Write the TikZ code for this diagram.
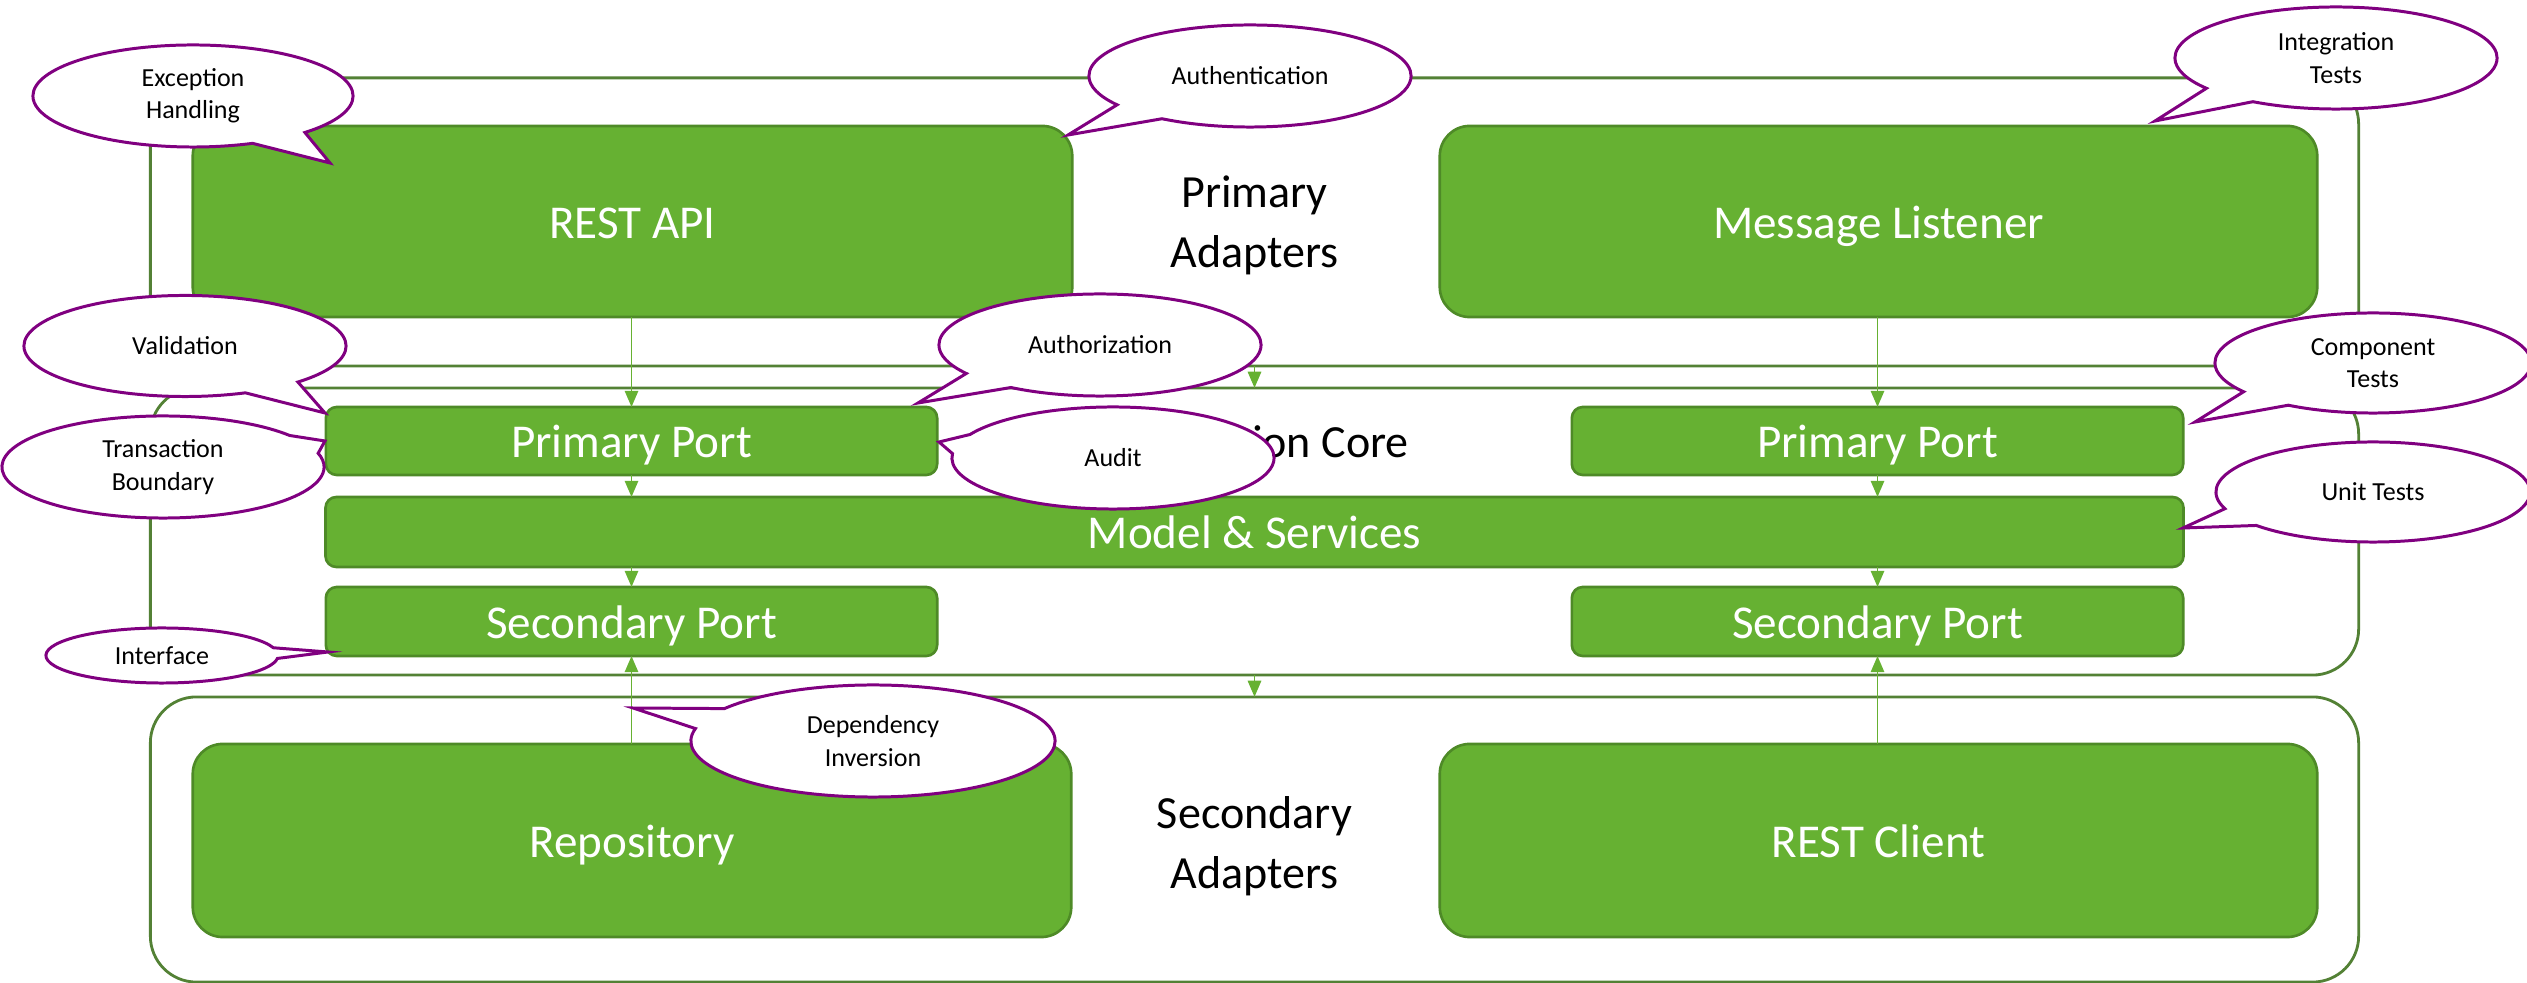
\documentclass[tikz,border=0pt]{standalone}
\usepackage{fontspec}
\setmainfont{Carlito}
\usetikzlibrary{shapes.callouts,arrows.meta}
\definecolor{boxfill}{HTML}{66B132}
\definecolor{boxline}{HTML}{4E8A27}
\definecolor{contline}{HTML}{538135}
\definecolor{arrowgreen}{HTML}{66B132}
\definecolor{bubbleline}{HTML}{800080}
\begin{document}
\begin{tikzpicture}[x=0.01cm,y=-0.01cm,
  container/.style={draw=contline, line width=0.8pt, rounded corners=0.46cm, inner sep=0pt, outer sep=0pt},
  box/.style={draw=boxline, fill=boxfill, line width=0.75pt, text=white, font=\fontsize{13.4}{16}\selectfont, text height=11pt, text depth=1.6pt, inner sep=0pt, outer sep=0pt},
  bigbox/.style={box, rounded corners=0.3cm},
  portbox/.style={box, rounded corners=0.11cm},
  lbl/.style={font=\fontsize{13.1}{17}\selectfont, align=center, text=black},
  flow/.style={draw=arrowgreen, line width=0.55pt, -{Triangle[length=4.6pt,width=3.8pt]}},
  bubble/.style={ellipse callout, draw=bubbleline, fill=white, line width=0.85pt, inner sep=0pt, callout pointer arc=22.5, align=center, font=\fontsize{7.4}{9.2}\selectfont}
]
\useasboundingbox (0,0) rectangle (2527,983);

% containers
\node[container, minimum width=22.07cm, minimum height=2.88cm] (primary) at (1254.5,222) {};
\node[container, minimum width=22.07cm, minimum height=2.87cm] (core) at (1254.5,531.5) {};
\node[container, minimum width=22.07cm, minimum height=2.85cm] (secondary) at (1254.5,839.5) {};

% labels
\node[lbl] (primlbl) at (1254.5,225) {Primary\\Adapters};
\node[lbl] (corelbl) at (1254.5,445) {Application Core};
\node[lbl] (seclbl) at (1254.5,846) {Secondary\\Adapters};

% adapter boxes
\node[bigbox, minimum width=8.79cm, minimum height=1.91cm] (restapi) at (632.5,221.5) {REST API};
\node[bigbox, minimum width=8.77cm, minimum height=1.91cm] (msglistener) at (1878.5,221.5) {Message Listener};
\node[bigbox, minimum width=8.78cm, minimum height=1.93cm] (repo) at (632,840.5) {Repository};
\node[bigbox, minimum width=8.77cm, minimum height=1.93cm] (restclient) at (1878.5,840.5) {REST Client};

% core boxes
\node[portbox, minimum width=6.11cm, minimum height=0.68cm] (pport1) at (631.5,441) {Primary Port};
\node[portbox, minimum width=6.11cm, minimum height=0.68cm] (pport2) at (1877.5,441) {Primary Port};
\node[portbox, minimum width=18.57cm, minimum height=0.70cm] (model) at (1254.5,532) {Model \& Services};
\node[portbox, minimum width=6.11cm, minimum height=0.69cm] (sport1) at (631.5,621.5) {Secondary Port};
\node[portbox, minimum width=6.11cm, minimum height=0.69cm] (sport2) at (1877.5,621.5) {Secondary Port};

% flows
\draw[flow] (restapi.south -| pport1.north) -- (pport1.north);
\draw[flow] (msglistener.south -| pport2.north) -- (pport2.north);
\draw[flow] (pport1.south) -- (pport1.south |- model.north);
\draw[flow] (pport2.south) -- (pport2.south |- model.north);
\draw[flow] (sport1.north |- model.south) -- (sport1.north);
\draw[flow] (sport2.north |- model.south) -- (sport2.north);
\draw[flow] (repo.north -| sport1.south) -- (sport1.south);
\draw[flow] (restclient.north -| sport2.south) -- (sport2.south);
\draw[flow] (primary.south) -- (core.north);
\draw[flow] (core.south) -- (secondary.north);

% callouts
\node[bubble, minimum width=3.20cm, minimum height=1.02cm, callout absolute pointer={(330,163)}] (exc) at (193,96) {Exception\\Handling};
\node[bubble, minimum width=3.22cm, minimum height=1.02cm, callout absolute pointer={(1068,135)}] (authn) at (1250,76) {Authentication};
\node[bubble, minimum width=3.22cm, minimum height=1.02cm, callout absolute pointer={(2155,121)}] (integ) at (2336,58) {Integration\\Tests};
\node[bubble, minimum width=3.22cm, minimum height=1.01cm, callout absolute pointer={(325,413)}] (valid) at (185,346) {Validation};
\node[bubble, minimum width=3.22cm, minimum height=1.02cm, callout absolute pointer={(918,403)}] (authz) at (1100,345) {Authorization};
\node[bubble, minimum width=3.22cm, minimum height=1.02cm, callout absolute pointer={(325,441)}] (trans) at (163,467) {Transaction\\Boundary};
\node[bubble, minimum width=3.22cm, minimum height=1.02cm, callout absolute pointer={(939,442)}] (audit) at (1113,458) {Audit};
\node[bubble, minimum width=3.16cm, minimum height=1.00cm, callout absolute pointer={(2195,422)}] (comp) at (2373,363) {Component\\Tests};
\node[bubble, minimum width=3.14cm, minimum height=1.00cm, callout absolute pointer={(2183,528)}] (unit) at (2373,492) {Unit Tests};
\node[bubble, minimum width=2.32cm, minimum height=0.55cm, callout absolute pointer={(328,652)}] (iface) at (162,655.5) {Interface};
\node[bubble, minimum width=3.64cm, minimum height=1.12cm, callout absolute pointer={(633,708)}] (depinv) at (873,741) {Dependency\\Inversion};
\end{tikzpicture}
\end{document}
